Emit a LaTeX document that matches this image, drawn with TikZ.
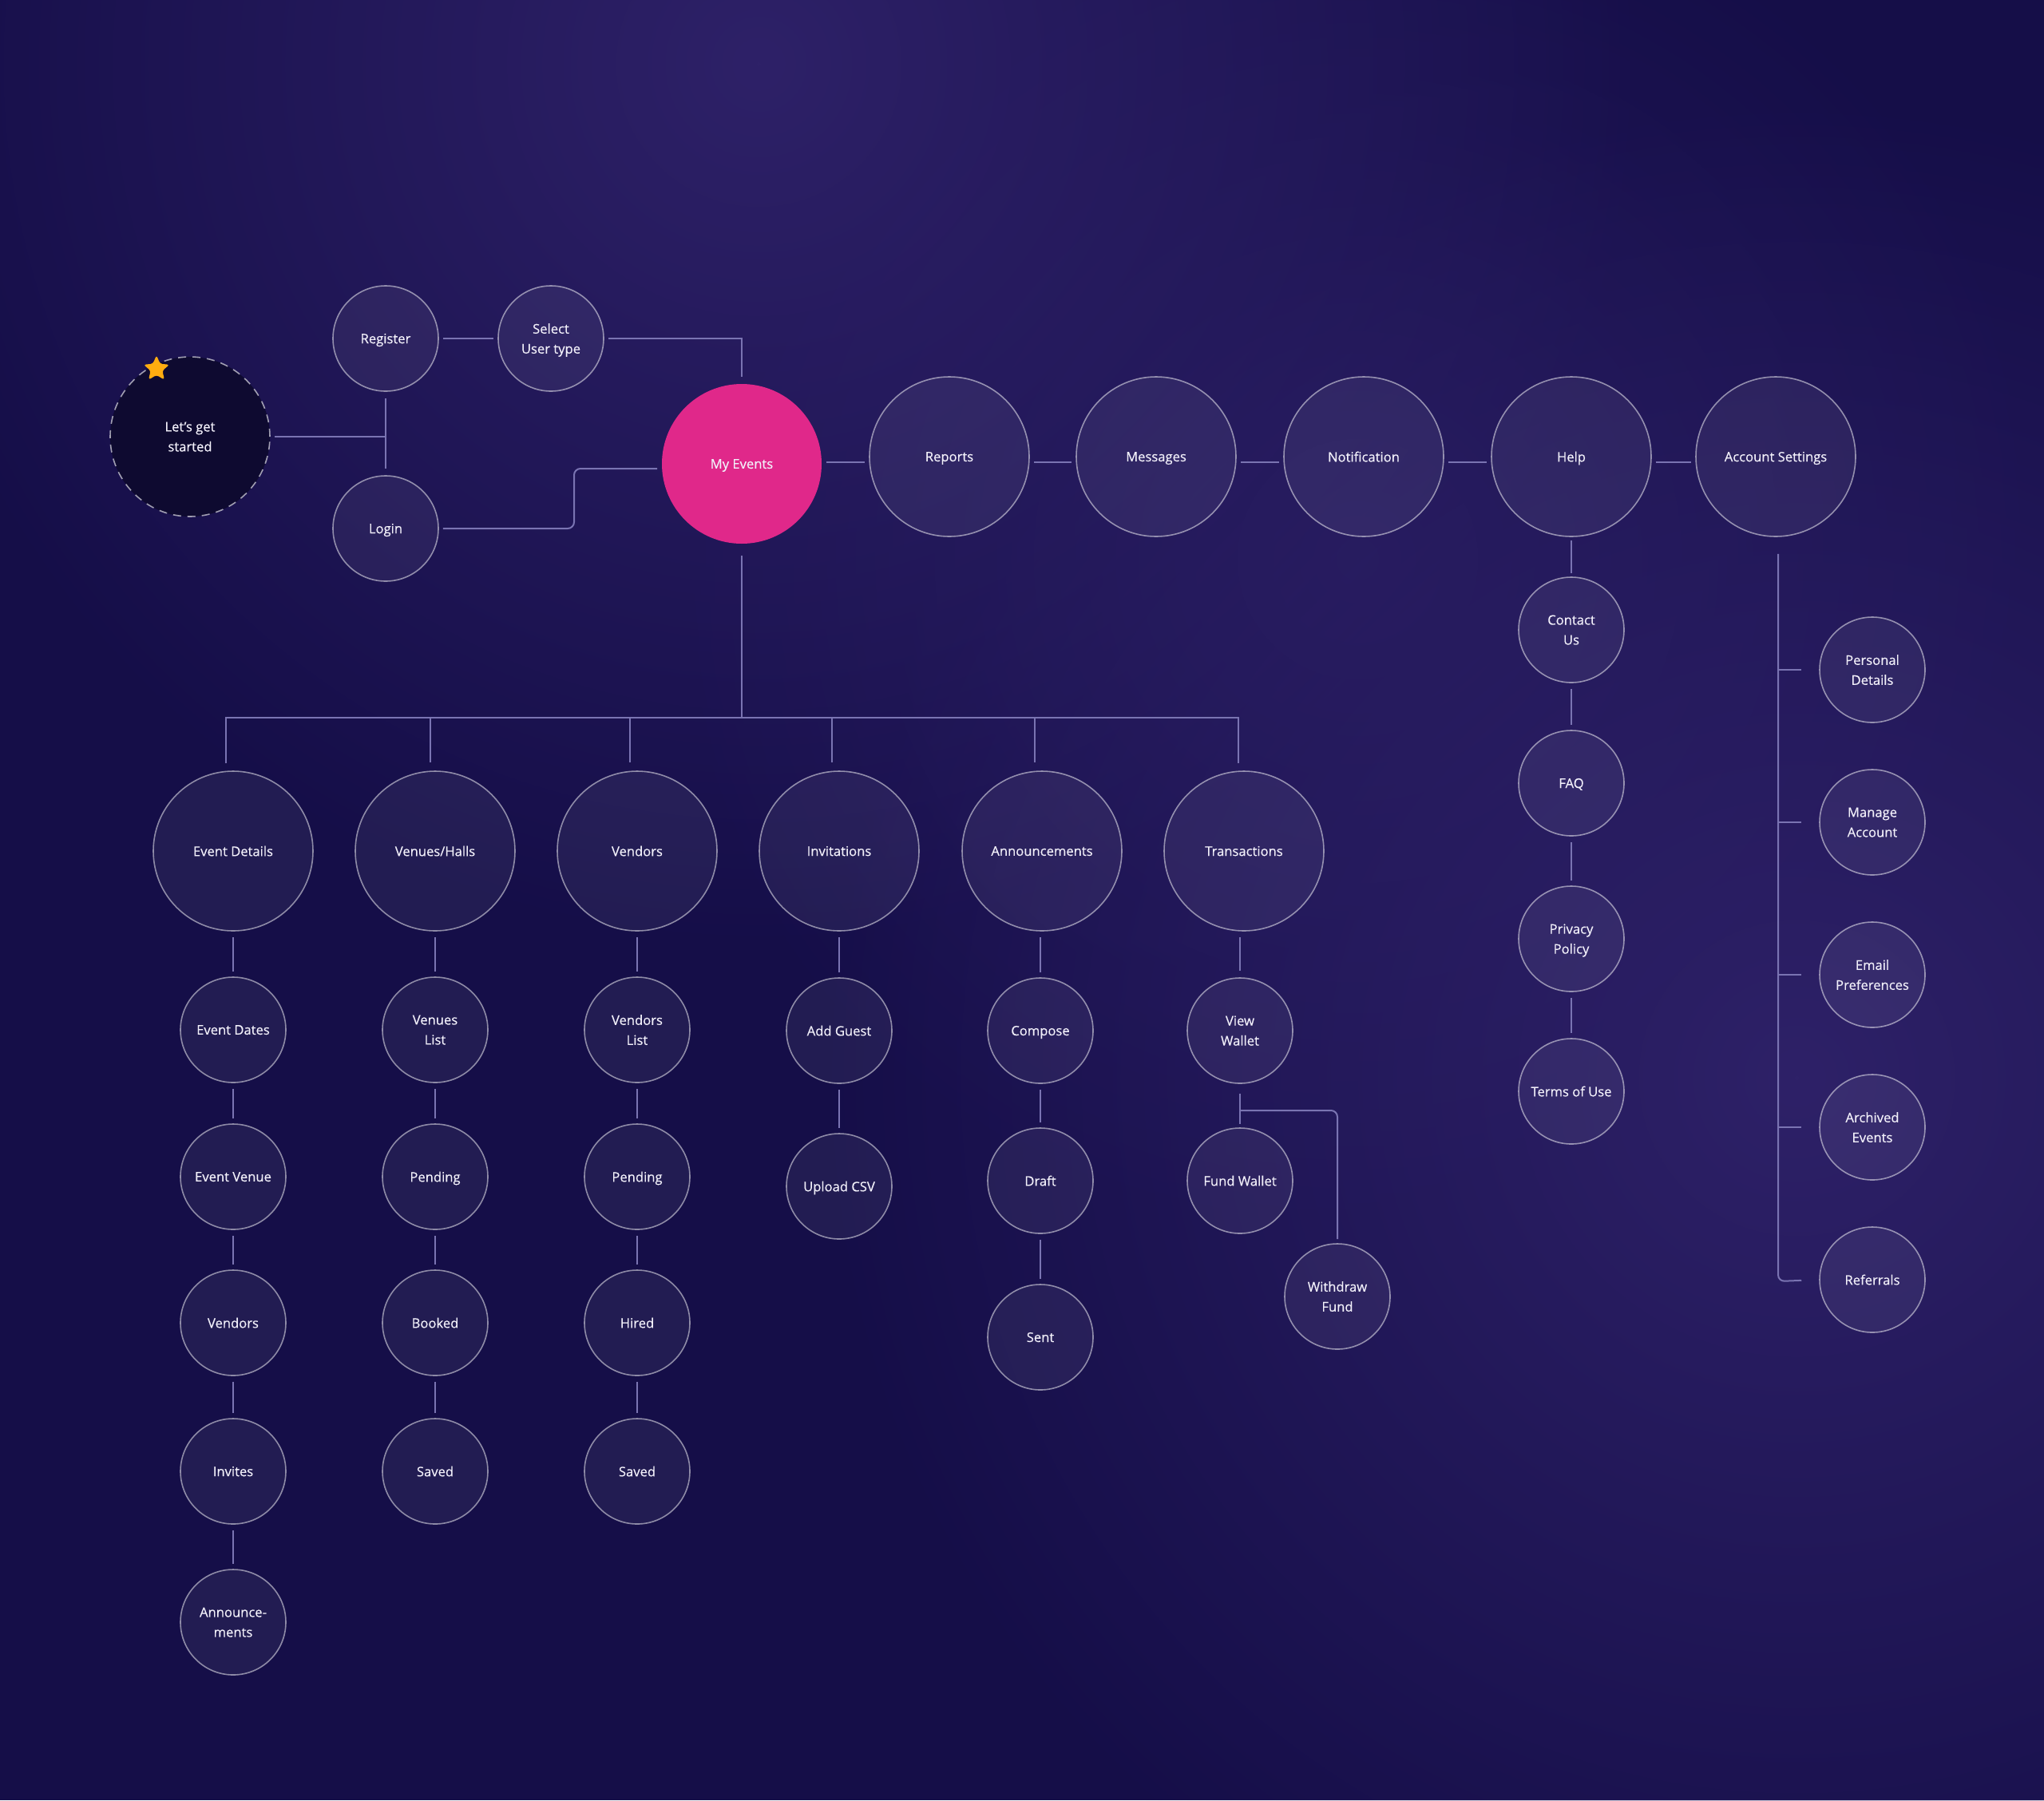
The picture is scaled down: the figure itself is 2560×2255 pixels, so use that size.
\documentclass[tikz,border=0pt]{standalone}
\usepackage{fontspec}
\setmainfont{Open Sans}
\newfontfamily\nodefam{Open Sans}[FakeBold=0.35]
\usetikzlibrary{shapes.geometric,fadings}

\definecolor{bgbase}{RGB}{21,14,72}
\definecolor{glow}{RGB}{46,33,104}
\definecolor{linecol}{RGB}{122,116,178}
\definecolor{txt}{RGB}{242,240,250}
\definecolor{pinkc}{RGB}{224,40,138}
\definecolor{startfill}{RGB}{14,10,48}
\definecolor{starcol}{RGB}{255,172,16}

\tikzfading[name=glowfade, inner color=transparent!0, outer color=transparent!100]

\newcommand{\nodefont}{\nodefam\fontsize{8.3}{12.5}\selectfont}

\begin{document}
\begin{tikzpicture}[x=0.5pt, y=-0.5pt,
  big/.style={circle, minimum size=100pt, inner sep=0pt, fill=white, fill opacity=0.06,
    text opacity=1, draw=white, draw opacity=0.5, line width=0.8pt, text=txt,
    align=center, font=\nodefont, text depth=0pt},
  small/.style={big, minimum size=66pt},
  pinknode/.style={big, fill=pinkc, fill opacity=1, draw=none},
  startnode/.style={big, fill=startfill, fill opacity=1, draw=white, draw opacity=0.6,
    dash pattern=on 5pt off 4pt},
  conn/.style={draw=linecol, line width=1pt, shorten <=2.5pt, shorten >=2.5pt},
]
% background
\useasboundingbox (0,0) rectangle (2560,2255);
\fill[bgbase] (0,0) rectangle (2560,2255);
\fill[glow, path fading=glowfade] (950,80) circle (560pt);
\fill[glow, path fading=glowfade] (2250,1350) circle (620pt);
\fill[glow, opacity=0.6, path fading=glowfade] (1700,700) circle (450pt);

% top area
\node[startnode] (start) at (238,547) {Let’s get\\started};
\node[star, star points=5, star point ratio=2.2, fill=starcol, minimum size=17pt,
  inner sep=0pt, rounded corners=1.5pt] (star) at (196,462) {};
\node[small] (reg) at (483,424) {Register};
\node[small] (sel) at (690,424) {Select\\User type};
\node[small] (login) at (483,662) {Login};
\node[pinknode] (me) at (929,581) {My Events};
\node[big] (rep) at (1189,572) {Reports};
\node[big] (msg) at (1448,572) {Messages};
\node[big] (notif) at (1708,572) {Notification};
\node[big] (help) at (1968,572) {Help};
\node[big] (acc) at (2224,572) {Account Settings};

% second row
\node[big] (ed) at (292,1066) {Event Details};
\node[big] (vh) at (545,1066) {Venues/Halls};
\node[big] (vd) at (798,1066) {Vendors};
\node[big] (inv) at (1051,1066) {Invitations};
\node[big] (ann) at (1305,1066) {Announcements};
\node[big] (tr) at (1558,1066) {Transactions};

% columns
\node[small] (e1) at (292,1290) {Event Dates};
\node[small] (e2) at (292,1474) {Event Venue};
\node[small] (e3) at (292,1657) {Vendors};
\node[small] (e4) at (292,1843) {Invites};
\node[small] (e5) at (292,2032) {Announce-\\ments};

\node[small] (v1) at (545,1290) {Venues\\List};
\node[small] (v2) at (545,1474) {Pending};
\node[small] (v3) at (545,1657) {Booked};
\node[small] (v4) at (545,1843) {Saved};

\node[small] (n1) at (798,1290) {Vendors\\List};
\node[small] (n2) at (798,1474) {Pending};
\node[small] (n3) at (798,1657) {Hired};
\node[small] (n4) at (798,1843) {Saved};

\node[small] (i1) at (1051,1291) {Add Guest};
\node[small] (i2) at (1051,1486) {Upload CSV};

\node[small] (a1) at (1303,1291) {Compose};
\node[small] (a2) at (1303,1479) {Draft};
\node[small] (a3) at (1303,1675) {Sent};

\node[small] (t1) at (1553,1291) {View\\Wallet};
\node[small] (t2) at (1553,1479) {Fund Wallet};
\node[small] (t3) at (1675,1624) {Withdraw\\Fund};

\node[small] (h1) at (1968,789) {Contact\\Us};
\node[small] (h2) at (1968,981) {FAQ};
\node[small] (h3) at (1968,1176) {Privacy\\Policy};
\node[small] (h4) at (1968,1367) {Terms of Use};

\node[small] (s1) at (2345,839) {Personal\\Details};
\node[small] (s2) at (2345,1030) {Manage\\Account};
\node[small] (s3) at (2345,1221) {Email\\Preferences};
\node[small] (s4) at (2345,1412) {Archived\\Events};
\node[small] (s5) at (2345,1603) {Referrals};

% coordinates
\coordinate (rj) at (482,547);
\coordinate (lj) at (719,620);
\coordinate (mej) at (0,587);
\coordinate (rowline) at (0,579);
\coordinate (bus) at (929,899);
\coordinate (d1) at (283,899);
\coordinate (d2) at (539,899);
\coordinate (d3) at (789,899);
\coordinate (d4) at (1042,899);
\coordinate (d5) at (1296,899);
\coordinate (d6) at (1551,899);
\coordinate (wj) at (1553,1391);
\coordinate (asb) at (2227,1605);

% connectors: top
\draw[conn, shorten >=0pt] (start.east) -- (rj);
\draw[conn, shorten <=4pt, shorten >=4pt] (reg.south) -- (login.north);
\draw[conn] (reg.east) -- (sel.east -| sel.west);
\draw[conn, shorten >=4pt] (sel.east) -| (me.north);
\draw[conn, rounded corners=4pt] (login.east) -- (login.east -| lj) -- (lj |- mej) -- (me.west |- mej);
\draw[conn] (me.east |- rowline) -- (rep.west |- rowline);
\draw[conn] (rep.east |- rowline) -- (msg.west |- rowline);
\draw[conn] (msg.east |- rowline) -- (notif.west |- rowline);
\draw[conn] (notif.east |- rowline) -- (help.west |- rowline);
\draw[conn] (help.east |- rowline) -- (acc.west |- rowline);

% My Events tree
\draw[conn, shorten <=7pt, shorten >=0pt] (me.south) -- (bus);
\draw[conn, shorten <=4.5pt, shorten >=4.5pt] (d1 |- ed.north) -- (d1) -- (d6) -- (d6 |- tr.north);
\draw[conn, shorten <=0pt, shorten >=5pt] (d2) -- (d2 |- vh.north);
\draw[conn, shorten <=0pt, shorten >=5pt] (d3) -- (d3 |- vd.north);
\draw[conn, shorten <=0pt, shorten >=5pt] (d4) -- (d4 |- inv.north);
\draw[conn, shorten <=0pt, shorten >=5pt] (d5) -- (d5 |- ann.north);

% columns
\draw[conn, shorten <=3.5pt, shorten >=3pt] (ed.south) -- (e1.north);
\draw[conn, shorten <=3.5pt, shorten >=3pt] (e1.south) -- (e2.north);
\draw[conn, shorten <=3.5pt, shorten >=3pt] (e2.south) -- (e3.north);
\draw[conn, shorten <=3.5pt, shorten >=3pt] (e3.south) -- (e4.north);
\draw[conn, shorten <=3.5pt, shorten >=3pt] (e4.south) -- (e5.north);

\draw[conn, shorten <=3.5pt, shorten >=3pt] (vh.south) -- (v1.north);
\draw[conn, shorten <=3.5pt, shorten >=3pt] (v1.south) -- (v2.north);
\draw[conn, shorten <=3.5pt, shorten >=3pt] (v2.south) -- (v3.north);
\draw[conn, shorten <=3.5pt, shorten >=3pt] (v3.south) -- (v4.north);

\draw[conn, shorten <=3.5pt, shorten >=3pt] (vd.south) -- (n1.north);
\draw[conn, shorten <=3.5pt, shorten >=3pt] (n1.south) -- (n2.north);
\draw[conn, shorten <=3.5pt, shorten >=3pt] (n2.south) -- (n3.north);
\draw[conn, shorten <=3.5pt, shorten >=3pt] (n3.south) -- (n4.north);

\draw[conn, shorten <=3.5pt, shorten >=3pt] (inv.south) -- (i1.north);
\draw[conn, shorten <=3.5pt, shorten >=3pt] (i1.south) -- (i2.north);

\draw[conn, shorten <=3.5pt, shorten >=3pt] (a1.north |- ann.south) -- (a1.north);
\draw[conn, shorten <=3.5pt, shorten >=3pt] (a1.south) -- (a2.north);
\draw[conn, shorten <=3.5pt, shorten >=3pt] (a2.south) -- (a3.north);

\draw[conn, shorten <=3.5pt, shorten >=4pt] (t1.north |- tr.south) -- (t1.north);
\draw[conn, shorten <=6pt, shorten >=2pt] (t1.south) -- (t2.north);
\draw[conn, rounded corners=4pt, shorten <=0pt, shorten >=2.5pt] (wj) -| (t3.north);

% Help column
\draw[conn, shorten <=2pt, shorten >=2pt] (help.south) -- (h1.north);
\draw[conn, shorten <=3.5pt, shorten >=3pt] (h1.south) -- (h2.north);
\draw[conn, shorten <=3.5pt, shorten >=3pt] (h2.south) -- (h3.north);
\draw[conn, shorten <=3.5pt, shorten >=3pt] (h3.south) -- (h4.north);

% Account settings
\draw[conn, rounded corners=4pt, shorten <=10.5pt, shorten >=11pt] (acc.south -| asb) -- (asb) -- (s5.west);
\draw[conn, shorten <=0pt, shorten >=11pt] (s1.west -| asb) -- (s1.west);
\draw[conn, shorten <=0pt, shorten >=11pt] (s2.west -| asb) -- (s2.west);
\draw[conn, shorten <=0pt, shorten >=11pt] (s3.west -| asb) -- (s3.west);
\draw[conn, shorten <=0pt, shorten >=11pt] (s4.west -| asb) -- (s4.west);
\end{tikzpicture}
\end{document}
